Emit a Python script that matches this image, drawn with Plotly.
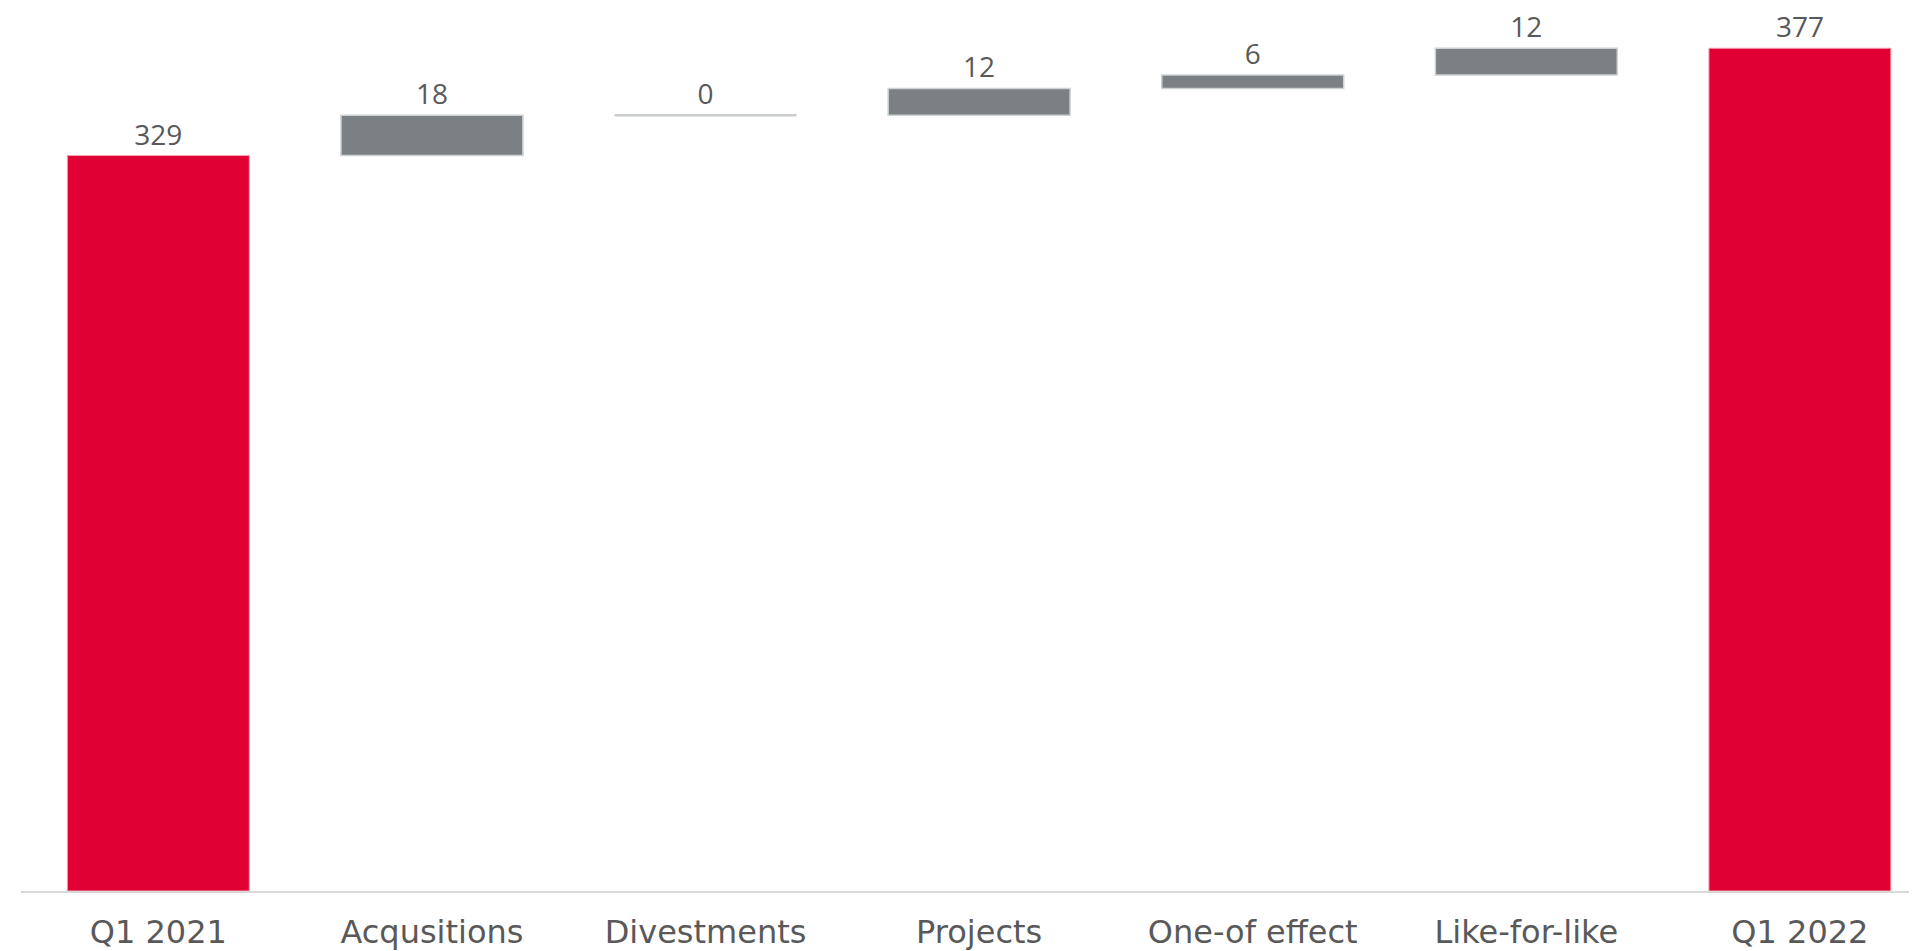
import plotly.graph_objects as go

categories = ["Q1 2021", "Acqusitions", "Divestments", "Projects", "One-of effect", "Like-for-like", "Q1 2022"]
values = [329, 18, 0, 12, 6, 12, 377]
measures = ["absolute", "relative", "relative", "relative", "relative", "relative", "total"]
labels = ["329", "18", "0", "12", "6", "12", "377"]

RED = "#E00034"
GRAY = "#7A8083"
TXT = "#595959"
GAP = 0.335

fig = go.Figure(go.Waterfall(
    x=categories,
    y=values,
    measure=measures,
    text=labels,
    textposition="outside",
    textfont=dict(family="Open Sans", size=28, color=TXT),
    increasing=dict(marker=dict(color=GRAY, line=dict(color="#CDD2D2", width=1.5))),
    decreasing=dict(marker=dict(color=GRAY, line=dict(color="#CDD2D2", width=1.5))),
    totals=dict(marker=dict(color=RED, line=dict(color="#F3A0B0", width=1))),
    connector=dict(visible=False),
    cliponaxis=False,
    hoverinfo="x+y",
))

# zero-valued steps: draw them as a thin line at the running level
running = 0
for i, (v, m) in enumerate(zip(values, measures)):
    if m == "absolute":
        running = v
    elif m == "relative":
        if v == 0:
            half = (1 - GAP) / 2
            fig.add_shape(type="line", xref="x", yref="y",
                          x0=i - half, x1=i + half, y0=running, y1=running,
                          line=dict(color="#C8CDCC", width=2.5), layer="above")
        running += v

fig.update_layout(
    width=1909, height=943,
    margin=dict(l=13, r=0, t=0, b=58),
    paper_bgcolor="white", plot_bgcolor="white",
    waterfallgap=GAP,
    showlegend=False,
    xaxis=dict(
        type="category",
        range=[-0.502, 6.428],
        showline=True, linecolor="#D9D9D9", linewidth=2,
        showgrid=False, ticks="",
        tickfont=dict(family="DejaVu Sans", size=32, color=TXT),
        ticklabelstandoff=12,
        zeroline=False,
    ),
    yaxis=dict(
        range=[0, 395.0],
        visible=False, showgrid=False, zeroline=False,
    ),
)

fig.write_html("out.html")
